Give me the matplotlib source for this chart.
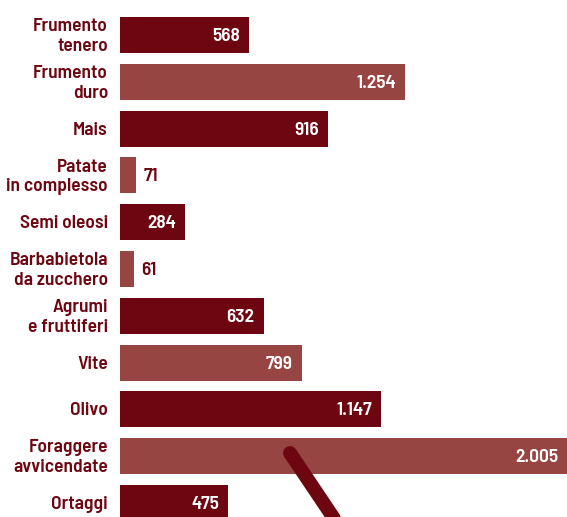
import matplotlib.pyplot as plt
from matplotlib.lines import Line2D

# superfici per coltura (migliaia di ettari)
colture = ['Frumento\ntenero', 'Frumento\nduro', 'Mais', 'Patate\nin complesso',
           'Semi oleosi', 'Barbabietola\nda zucchero', 'Agrumi\ne fruttiferi',
           'Vite', 'Olivo', 'Foraggere\navvicendate', 'Ortaggi']
valori = [568, 1254, 916, 71, 284, 61, 632, 799, 1147, 2005, 475]
etichette = ['568', '1.254', '916', '71', '284', '61', '632', '799', '1.147', '2.005', '475']

SCURO = '#6e0612'
CHIARO = '#974543'
FONT = ['Barlow Semi Condensed', 'DejaVu Sans']

W, H = 567, 517
PX = 0.2272  # pixel per migliaio di ettari
fig = plt.figure(figsize=(W / 100, H / 100), dpi=100)
ax = fig.add_axes([120 / W, 0, 1 - 120 / W, 1])

colori = [SCURO if i % 2 == 0 else CHIARO for i in range(len(valori))]
pos = list(range(len(valori)))
ax.barh(pos, valori, height=0.77, color=colori)

xmax = 447 / PX
ax.set_xlim(0, xmax)
ax.set_ylim((H - 35) / 46.8, -35 / 46.8)
ax.axis('off')

for i, (v, lab) in enumerate(zip(valori, etichette)):
    if v > 200:
        ax.text(min(v, xmax) - 9 / PX, i + 0.03, lab, ha='right', va='center',
                color='white', fontsize=14, fontweight='semibold', family=FONT)
    else:
        ax.text(v + 7 / PX, i + 0.03, lab, ha='left', va='center', color=SCURO,
                fontsize=14, fontweight='semibold', family=FONT)
    ax.text(-12 / PX, i + 0.03, colture[i], ha='right', va='center', color=SCURO,
            fontsize=14, fontweight='semibold', family=FONT, linespacing=1.2,
            clip_on=False)

# tratto diagonale decorativo
x0, y0 = 290, 453
x1, y1 = 345, 453 + 55 * 64 / 43
fig.add_artist(Line2D([x0 / W, x1 / W], [1 - y0 / H, 1 - y1 / H],
                      transform=fig.transFigure, color=SCURO, lw=10,
                      solid_capstyle='round'))

fig.savefig('out.png', dpi=100)
